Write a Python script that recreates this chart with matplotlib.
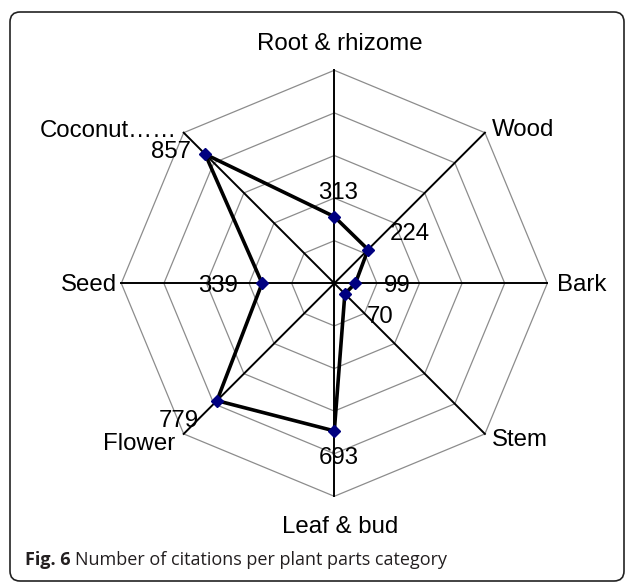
import numpy as np
import matplotlib.pyplot as plt
from matplotlib.patches import FancyBboxPatch

# data
categories = ['Root & rhizome', 'Wood', 'Bark', 'Stem', 'Leaf & bud',
              'Flower', 'Seed', 'Coconut……']
citations = [313, 224, 99, 70, 693, 779, 339, 857]
ring_values = [200, 400, 600, 800, 1000]

# layout (pixel space of the 627x582 image)
W, H = 627, 582
cx, cy = 334.3, 283.3
R = 213.0          # radius of the 1000 ring
vmax = 1000.0

# category label positions (x, baseline y, ha)
cat_pos = [(340, 50, 'center'), (492, 136, 'left'), (557, 291, 'left'),
           (492, 446, 'left'), (340, 533, 'center'), (175, 450, 'right'),
           (117, 291, 'right'), (177, 137, 'right')]
# value label offsets from marker (dx, dy of the label centre / baseline)
val_off = [(4, -18), (42, -10), (42, 9), (35, 29), (4, 33), (-38, 26),
           (-44, 9), (-34, 4)]

plt.rcParams['font.family'] = ['Liberation Sans', 'DejaVu Sans']

fig = plt.figure(figsize=(W / 100, H / 100), dpi=100)
ax = fig.add_axes([0, 0, 1, 1])
ax.set_xlim(0, W)
ax.set_ylim(H, 0)
ax.axis('off')

n = len(categories)
theta = np.deg2rad(90 - 45 * np.arange(n))


def to_xy(v, th):
    r = R * np.asarray(v) / vmax
    return cx + r * np.cos(th), cy - r * np.sin(th)


# rings
for rv in ring_values:
    x, y = to_xy([rv] * n, theta)
    ax.plot(np.append(x, x[0]), np.append(y, y[0]), color='#8c8c8c', lw=0.9, zorder=1)

# spokes
for th in theta:
    x, y = to_xy([0, vmax], np.array([th, th]))
    ax.plot(x, y, color='black', lw=1.4, zorder=2)

# series
x, y = to_xy(citations, theta)
ax.plot(np.append(x, x[0]), np.append(y, y[0]), color='black', lw=2.6, zorder=3)
ax.plot(x, y, linestyle='none', marker='D', markersize=6, color='#000080',
        markeredgecolor='#000080', zorder=4)

# value labels
for xi, yi, v, (dx, dy) in zip(x, y, citations, val_off):
    ax.text(xi + dx, yi + dy, str(v), ha='center', va='baseline', fontsize=17.3, zorder=5)

# category labels
for lab, (lx, ly, ha) in zip(categories, cat_pos):
    ax.text(lx, ly, lab, ha=ha, va='baseline', fontsize=17.3)

# frame
frame = FancyBboxPatch((10, 12), 614, 569, boxstyle='round,pad=0,rounding_size=10',
                       fill=False, edgecolor='#222222', lw=1.2, zorder=0)
ax.add_patch(frame)

# caption
t1 = ax.text(25, 565, 'Fig. 6', fontsize=13, fontweight='bold', va='baseline',
             family=['Open Sans', 'DejaVu Sans'], color='#231f20')
fig.canvas.draw()
bb = t1.get_window_extent()
x_end = ax.transData.inverted().transform((bb.x1, bb.y0))[0]
ax.text(x_end + 4, 565, 'Number of citations per plant parts category', fontsize=13,
        va='baseline', family=['Open Sans', 'DejaVu Sans'], color='#231f20')

fig.savefig('out.png', dpi=100)
